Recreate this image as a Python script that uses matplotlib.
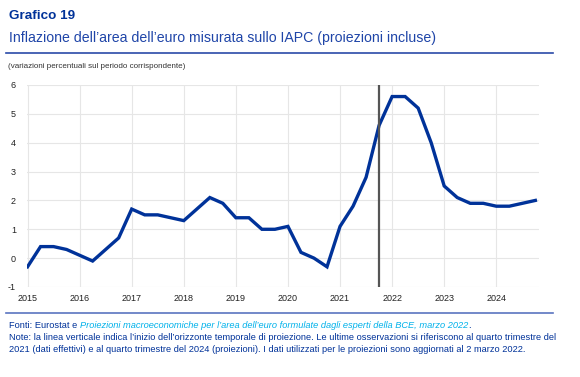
import matplotlib
matplotlib.use("Agg")
import matplotlib.pyplot as plt
import numpy as np

plt.rcParams['font.family'] = ['Liberation Sans', 'DejaVu Sans']
plt.rcParams['axes.unicode_minus'] = False

# Quarterly HICP inflation, 2015Q1 - 2024Q4 (projections from 2022)
quarters = np.arange(2015.0, 2025.0, 0.25)
inflation = [-0.3, 0.4, 0.4, 0.3,
             0.1, -0.1, 0.3, 0.7,
             1.7, 1.5, 1.5, 1.4,
             1.3, 1.7, 2.1, 1.9,
             1.4, 1.4, 1.0, 1.0,
             1.1, 0.2, 0.0, -0.3,
             1.1, 1.8, 2.8, 4.6,
             5.6, 5.6, 5.2, 4.0,
             2.5, 2.1, 1.9, 1.9,
             1.8, 1.8, 1.9, 2.0]
projection_start = 2021.75
year_ticks = list(range(2015, 2025))
y_ticks = [-1, 0, 1, 2, 3, 4, 5, 6]

W, H = 580, 377
fig = plt.figure(figsize=(W / 100, H / 100), dpi=100)

def fx(px):
    return px / W

def fy(py):
    return 1 - py / H

navy = '#003299'

fig.text(fx(9), fy(16), 'Grafico 19', fontsize=9.7, fontweight='bold', color=navy, va='center')
fig.text(fx(9), fy(38), 'Inflazione dell\u2019area dell\u2019euro misurata sullo IAPC (proiezioni incluse)',
         fontsize=10.2, color='#1f45a8', va='center')
fig.add_artist(plt.Line2D([fx(6), fx(553)], [fy(53), fy(53)], color='#2a4aa8', lw=1.2))
fig.text(fx(8), fy(67), '(variazioni percentuali sul periodo corrispondente)', fontsize=5.8, color='#333333', va='center')

ax = fig.add_axes([fx(27), fy(287), fx(539) - fx(27), fy(85) - fy(287)])
ax.plot(quarters, inflation, color=navy, lw=2.4, solid_joinstyle='miter', zorder=3)
ax.axvline(projection_start, color='#555555', lw=1.6, zorder=4)
ax.set_xlim(2014.99, 2024.82)
ax.set_ylim(-1, 6)
ax.set_xticks(year_ticks)
ax.set_xticklabels([str(y) for y in year_ticks])
ax.set_yticks(y_ticks)
ax.grid(True, color='#e6e6e6', lw=0.8)
ax.set_axisbelow(True)
for s in ax.spines.values():
    s.set_visible(False)
ax.tick_params(length=0, labelsize=6.5, labelcolor='#222222')
ax.tick_params(axis='y', pad=8)
ax.tick_params(axis='x', pad=5)

fig.add_artist(plt.Line2D([fx(6), fx(553)], [fy(313), fy(313)], color='#5a74c0', lw=1.2))

fs = 6.65
t1 = fig.text(fx(9), fy(326), 'Fonti: Eurostat e ', fontsize=fs, color=navy, va='center')
ann = plt.annotate('Proiezioni macroeconomiche per l\u2019area dell\u2019euro formulate dagli esperti della BCE, marzo 2022',
                   xy=(1, 0), xycoords=t1, va='bottom', ha='left', fontsize=fs, style='italic', color='#00b1ea',
                   annotation_clip=False)
ann2 = plt.annotate('.', xy=(1, 0), xycoords=ann, va='bottom', ha='left', fontsize=fs, color=navy, annotation_clip=False)
fig.text(fx(9), fy(338), 'Note: la linea verticale indica l\u2019inizio dell\u2019orizzonte temporale di proiezione. '
         'Le ultime osservazioni si riferiscono al quarto trimestre del', fontsize=fs, color=navy, va='center')
fig.text(fx(9), fy(350), '2021 (dati effettivi) e al quarto trimestre del 2024 (proiezioni). '
         'I dati utilizzati per le proiezioni sono aggiornati al 2 marzo 2022.', fontsize=fs, color=navy, va='center')

fig.savefig('out.png', dpi=100)
